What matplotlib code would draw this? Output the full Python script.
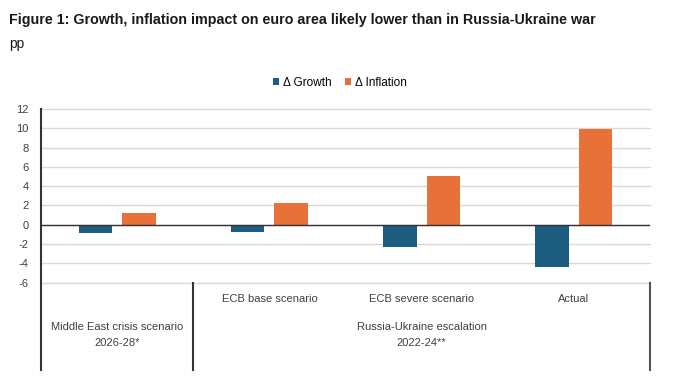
import matplotlib
matplotlib.use("Agg")
import matplotlib.pyplot as plt
import numpy as np

plt.rcParams['font.family'] = ['Liberation Sans', 'DejaVu Sans']

categories = ["", "ECB base scenario", "ECB severe scenario", "Actual"]
growth = [-0.8, -0.7, -2.3, -4.4]
inflation = [1.2, 2.3, 5.1, 9.9]
groups = ["Middle East crisis scenario\n2026-28*", "Russia-Ukraine escalation\n2022-24**"]
yticks = [-6, -4, -2, 0, 2, 4, 6, 8, 10, 12]

blue = "#1c5d80"
orange = "#e8713a"

fig = plt.figure(figsize=(6.73, 3.81), dpi=100)
ax = fig.add_axes([41/673, 0.258, 609/673, 0.456])

x = np.arange(len(categories))
w = 0.22
ax.bar(x - 0.143, growth, w, color=blue, label="Δ Growth", zorder=3)
ax.bar(x + 0.143, inflation, w, color=orange, label="Δ Inflation", zorder=3)

ax.set_xlim(-0.5, 3.5)
ax.set_ylim(-6, 12)
ax.set_yticks(yticks)
ax.set_yticklabels([str(t) for t in yticks], fontsize=8, color="#404040")
ax.tick_params(axis='y', length=0, pad=9)
ax.set_xticks([])
for t in yticks:
    ax.axhline(t, color="#d9d9d9", lw=1, zorder=1, clip_on=False)
ax.axhline(0, color="#333333", lw=1, zorder=4)

for s in ["top", "right", "bottom", "left"]:
    ax.spines[s].set_visible(False)

tr = ax.get_xaxis_transform()
# vertical axis line and dividers
ax.plot([-0.5, -0.5], [-0.505, 1.0], transform=tr, color="#333333", lw=1.5, clip_on=False, zorder=5)
ax.plot([0.5, 0.5], [-0.505, 0.0], transform=tr, color="#333333", lw=1.5, clip_on=False)
ax.plot([3.5, 3.5], [-0.505, 0.0], transform=tr, color="#555555", lw=1.5, clip_on=False)

for i, c in enumerate(categories):
    if c:
        ax.text(i, -0.094, c, transform=tr, ha="center", va="center", fontsize=8, color="#404040")
ax.text(0, -0.30, groups[0], transform=tr, ha="center", va="center", fontsize=8, color="#404040", linespacing=1.75)
ax.text(2, -0.30, groups[1], transform=tr, ha="center", va="center", fontsize=8, color="#404040", linespacing=1.75)

fig.text(9/673, 1 - 20/381, "Figure 1: Growth, inflation impact on euro area likely lower than in Russia-Ukraine war",
         fontsize=10.3, fontweight="bold", va="center", ha="left", color="#1a1a1a")
fig.text(9/673, 1 - 44/381, "pp", fontsize=10, va="center", ha="left", color="#1a1a1a")

fig.legend(loc="center", bbox_to_anchor=(340/673, 1 - 83/381), ncol=2, frameon=False,
           fontsize=8.5, handlelength=0.5, handleheight=0.5, handletextpad=0.3, columnspacing=1.2)

fig.savefig("out.png", dpi=100, facecolor="white")
